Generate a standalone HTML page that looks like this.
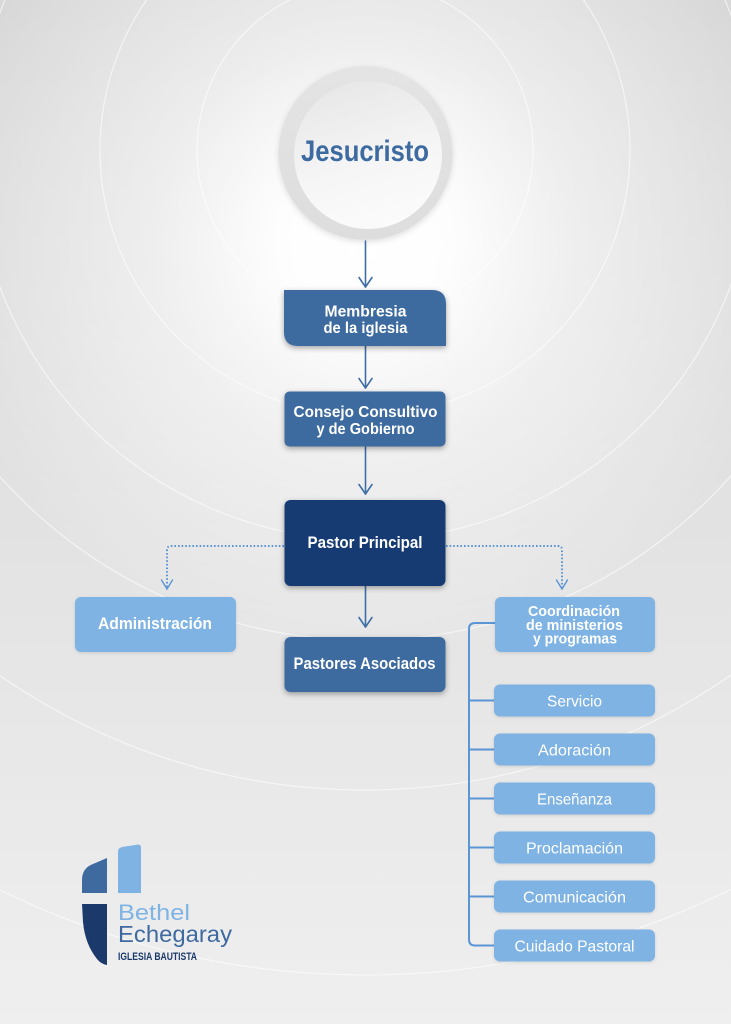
<!DOCTYPE html>
<html>
<head>
<meta charset="utf-8">
<style>
html,body{margin:0;padding:0;}
body{width:731px;height:1024px;overflow:hidden;background:#e6e6e6;}
svg{display:block;}
text{font-family:"Liberation Sans",Arial,sans-serif;}
</style>
</head>
<body>
<svg width="731" height="1024" viewBox="0 0 731 1024" xmlns="http://www.w3.org/2000/svg">
  <defs>
    <linearGradient id="bgLin" x1="0" y1="0" x2="0" y2="1">
      <stop offset="0" stop-color="#d8d8d8"/>
      <stop offset="0.5" stop-color="#e2e2e2"/>
      <stop offset="1" stop-color="#efefef"/>
    </linearGradient>
    <radialGradient id="bgRad" gradientUnits="userSpaceOnUse" cx="365" cy="240" r="430">
      <stop offset="0" stop-color="#ffffff" stop-opacity="1"/>
      <stop offset="0.2" stop-color="#ffffff" stop-opacity="0.95"/>
      <stop offset="0.5" stop-color="#ffffff" stop-opacity="0.5"/>
      <stop offset="1" stop-color="#ffffff" stop-opacity="0"/>
    </radialGradient>
    <linearGradient id="ringG" x1="0" y1="0" x2="0" y2="1">
      <stop offset="0" stop-color="#e4e4e4"/>
      <stop offset="1" stop-color="#dddddd"/>
    </linearGradient>
    <linearGradient id="innerG" x1="0.3" y1="0" x2="0.6" y2="1">
      <stop offset="0" stop-color="#e7e7e7"/>
      <stop offset="0.6" stop-color="#f6f6f6"/>
      <stop offset="1" stop-color="#fbfbfb"/>
    </linearGradient>
    <filter id="sh" x="-20%" y="-30%" width="140%" height="170%">
      <feDropShadow dx="0" dy="2" stdDeviation="3" flood-color="#000" flood-opacity="0.35"/>
    </filter>
    <filter id="shL" x="-20%" y="-30%" width="140%" height="170%">
      <feDropShadow dx="0" dy="1" stdDeviation="1.5" flood-color="#000" flood-opacity="0.12"/>
    </filter>
    <filter id="shC" x="-30%" y="-30%" width="160%" height="160%">
      <feDropShadow dx="0" dy="2" stdDeviation="3" flood-color="#000" flood-opacity="0.12"/>
    </filter>
  </defs>

  <!-- background -->
  <rect x="0" y="0" width="731" height="1024" fill="url(#bgLin)"/>
  <rect x="0" y="0" width="731" height="1024" fill="url(#bgRad)"/>

  <!-- concentric circles -->
  <g fill="none" stroke="#ffffff" stroke-opacity="0.6" stroke-width="1.2">
    <circle cx="365" cy="150" r="168"/>
    <circle cx="365" cy="150" r="265"/>
    <circle cx="365" cy="150" r="390"/>
    <circle cx="365" cy="150" r="490"/>
    <circle cx="365" cy="150" r="640"/>
    <circle cx="365" cy="150" r="825"/>
  </g>

  <!-- Jesucristo circle -->
  <circle cx="365.5" cy="153" r="87" fill="url(#ringG)" filter="url(#shC)"/>
  <circle cx="368" cy="155" r="74" fill="url(#innerG)"/>
  <text x="365" y="161" font-size="30" font-weight="bold" fill="#3d6aa0" text-anchor="middle" textLength="128" lengthAdjust="spacingAndGlyphs">Jesucristo</text>

  <!-- solid arrows -->
  <g stroke="#3f6ea5" stroke-width="1.6" fill="none" stroke-linecap="round" stroke-linejoin="round">
    <line x1="365.5" y1="241" x2="365.5" y2="287"/>
    <polyline points="359,277.5 365.5,287 372,277.5"/>
    <line x1="365.5" y1="346" x2="365.5" y2="388"/>
    <polyline points="359,378.5 365.5,388 372,378.5"/>
    <line x1="365.5" y1="447" x2="365.5" y2="494"/>
    <polyline points="359,484.5 365.5,494 372,484.5"/>
    <line x1="365.5" y1="586" x2="365.5" y2="627"/>
    <polyline points="359,617.5 365.5,627 372,617.5"/>
  </g>

  <!-- dotted arrows -->
  <g stroke="#5b95d6" stroke-width="2" fill="none" stroke-dasharray="1.6 2">
    <path d="M284,546 H171 Q167,546 167,550 V588"/>
    <path d="M446,546 H558 Q562,546 562,550 V588"/>
  </g>
  <g stroke="#5b95d6" stroke-width="1.4" fill="none" stroke-linecap="round">
    <polyline points="161.5,580 167,589 172.5,580"/>
    <polyline points="556.5,580 562,589 567.5,580"/>
  </g>

  <!-- bracket -->
  <g stroke="#5a95d6" stroke-width="2" fill="none">
    <path d="M495,623 H475 Q469,623 469,629 V939.5 Q469,945.5 475,945.5 H494"/>
    <line x1="469" y1="700.5" x2="494" y2="700.5"/>
    <line x1="469" y1="749.5" x2="494" y2="749.5"/>
    <line x1="469" y1="798.5" x2="494" y2="798.5"/>
    <line x1="469" y1="847.5" x2="494" y2="847.5"/>
    <line x1="469" y1="896.5" x2="494" y2="896.5"/>
  </g>

  <!-- Membresia -->
  <path d="M284,290 H432 Q446,290 446,304 V346 H298 Q284,346 284,332 Z" fill="#3e6a9f" filter="url(#sh)"/>
  <text x="365.5" y="316.5" font-size="16" font-weight="bold" fill="#ffffff" text-anchor="middle" textLength="82" lengthAdjust="spacingAndGlyphs">Membresia</text>
  <text x="365.5" y="333" font-size="16" font-weight="bold" fill="#ffffff" text-anchor="middle" textLength="84" lengthAdjust="spacingAndGlyphs">de la iglesia</text>

  <!-- Consejo -->
  <rect x="284.5" y="391.5" width="161" height="55" rx="5" fill="#3e6a9f" filter="url(#sh)"/>
  <text x="365.5" y="417" font-size="16" font-weight="bold" fill="#ffffff" text-anchor="middle" textLength="144" lengthAdjust="spacingAndGlyphs">Consejo Consultivo</text>
  <text x="365.5" y="434" font-size="16" font-weight="bold" fill="#ffffff" text-anchor="middle" textLength="98" lengthAdjust="spacingAndGlyphs">y de Gobierno</text>

  <!-- Pastor Principal -->
  <rect x="284.5" y="500" width="161" height="86" rx="6" fill="#183b73" filter="url(#sh)"/>
  <text x="365" y="548" font-size="17" font-weight="bold" fill="#ffffff" text-anchor="middle" textLength="115" lengthAdjust="spacingAndGlyphs">Pastor Principal</text>

  <!-- Pastores Asociados -->
  <rect x="284.5" y="637" width="161" height="55" rx="6" fill="#3e6a9f" filter="url(#sh)"/>
  <text x="364.5" y="669" font-size="17" font-weight="bold" fill="#ffffff" text-anchor="middle" textLength="142" lengthAdjust="spacingAndGlyphs">Pastores Asociados</text>

  <!-- Administracion -->
  <rect x="75" y="597" width="161" height="55" rx="6" fill="#7eb3e3" filter="url(#shL)"/>
  <text x="155" y="629" font-size="17" font-weight="bold" fill="#ffffff" text-anchor="middle" textLength="114" lengthAdjust="spacingAndGlyphs">Administración</text>

  <!-- Coordinacion -->
  <rect x="495" y="597" width="160" height="55" rx="6" fill="#7eb3e3" filter="url(#shL)"/>
  <text x="574" y="616" font-size="15" font-weight="bold" fill="#ffffff" text-anchor="middle" textLength="92" lengthAdjust="spacingAndGlyphs">Coordinación</text>
  <text x="574.5" y="630" font-size="15" font-weight="bold" fill="#ffffff" text-anchor="middle" textLength="97" lengthAdjust="spacingAndGlyphs">de ministerios</text>
  <text x="575" y="643.5" font-size="15" font-weight="bold" fill="#ffffff" text-anchor="middle" textLength="84" lengthAdjust="spacingAndGlyphs">y programas</text>

  <!-- sub boxes -->
  <g fill="#7eb3e3" filter="url(#shL)">
    <rect x="494" y="684.5" width="161" height="32" rx="6"/>
    <rect x="494" y="733.5" width="161" height="32" rx="6"/>
    <rect x="494" y="782.5" width="161" height="32" rx="6"/>
    <rect x="494" y="831.5" width="161" height="32" rx="6"/>
    <rect x="494" y="880.5" width="161" height="32" rx="6"/>
    <rect x="494" y="929.5" width="161" height="32" rx="6"/>
  </g>
  <g font-size="16" fill="#ffffff" text-anchor="middle">
    <text x="574.5" y="706.5" textLength="55" lengthAdjust="spacingAndGlyphs">Servicio</text>
    <text x="574.5" y="755.5" textLength="73" lengthAdjust="spacingAndGlyphs">Adoración</text>
    <text x="574.5" y="804.5" textLength="75" lengthAdjust="spacingAndGlyphs">Enseñanza</text>
    <text x="574.5" y="853.5" textLength="97" lengthAdjust="spacingAndGlyphs">Proclamación</text>
    <text x="574.5" y="902.5" textLength="103" lengthAdjust="spacingAndGlyphs">Comunicación</text>
    <text x="574.5" y="951.5" textLength="120" lengthAdjust="spacingAndGlyphs">Cuidado Pastoral</text>
  </g>

  <!-- logo -->
  <path d="M82,893 L82,880 Q82,868 93,864 L107,858 L107,893 Z" fill="#3e6a9f"/>
  <path d="M118,893 L118,852 Q118,848 122,847 L138,844.5 Q141,844.5 141,847.5 L141,893 Z" fill="#7eb3e3"/>
  <path d="M82,904 L107,904 L107,965 Q101,964 97,959 Q85,944 83,922 Z" fill="#1b3a6b"/>
  <text x="118" y="920" font-size="22" fill="#7eb3e3" textLength="72" lengthAdjust="spacingAndGlyphs">Bethel</text>
  <text x="118" y="942" font-size="23" fill="#3e6a9f" textLength="114" lengthAdjust="spacingAndGlyphs">Echegaray</text>
  <text x="118" y="960" font-size="11" font-weight="bold" fill="#1b3a6b" textLength="79" lengthAdjust="spacingAndGlyphs">IGLESIA BAUTISTA</text>
</svg>
</body>
</html>
